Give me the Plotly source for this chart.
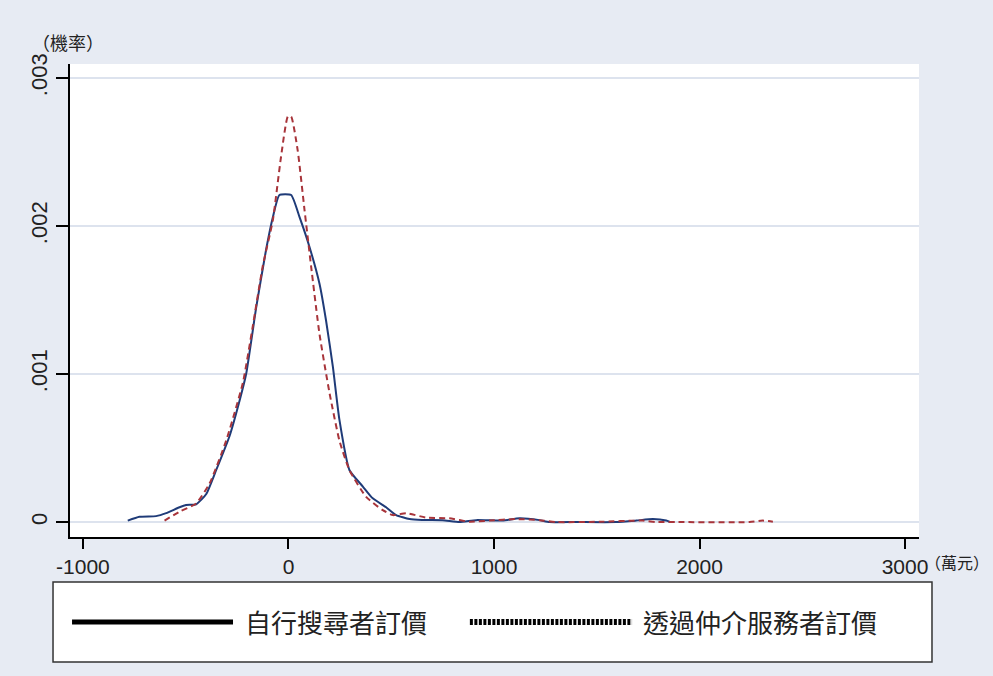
import plotly.graph_objects as go

# 自行搜尋者訂價 (solid, navy)
self_x = [-782, -725, -644, -595, -530, -498, -449, -400, -352, -287, -238, -206, -157, -109, -76, -44,
          13, 54, 102, 151, 183, 216, 248, 297, 362, 410, 475, 524, 589, 650, 750, 832, 913, 1042,
          1124, 1221, 1270, 1400, 1594, 1692, 1773, 1838, 1854]
self_y = [0.00001, 0.000036, 0.00004, 0.00006, 0.0001, 0.000115, 0.00012, 0.00019, 0.00035, 0.00058,
          0.00082, 0.001, 0.00145, 0.00184, 0.00206, 0.00221, 0.00221, 0.00206, 0.00186, 0.00161,
          0.00136, 0.00105, 0.00069, 0.00035, 0.00024, 0.00016, 0.0001, 0.000047, 0.00002, 0.000014,
          0.000013, 0.0, 0.000013, 0.00001, 0.000025, 0.000013, 0.0, 0.0, 0.0, 0.00001, 0.00002,
          0.00001, 0.000002]

# 透過仲介服務者訂價 (dashed, dark red)
agent_x = [-603, -530, -449, -384, -303, -222, -174, -125, -76, -36, -3, 13, 45, 78, 110, 151, 200,
           248, 297, 378, 459, 508, 573, 670, 783, 881, 978, 1108, 1221, 1303, 1513, 1724, 1789, 1887,
           2243, 2308, 2357]
agent_y = [0.00001, 0.00007, 0.000126, 0.00026, 0.00055, 0.00094, 0.00132, 0.00173, 0.00204, 0.00247,
           0.00274, 0.00274, 0.00251, 0.00211, 0.00173, 0.00127, 0.00087, 0.00055, 0.00035, 0.00017,
           0.00008, 0.000047, 0.00006, 0.00003, 0.000025, 0.000002, 0.00001, 0.00002, 0.000013, 0.0,
           0.000002, 0.00001, 0.0, 0.0, 0.0, 0.00001, 0.000002]

x_ticks = [-1000, 0, 1000, 2000, 3000]
x_tick_labels = ["-1000", "0", "1000", "2000", "3000"]
y_ticks = [0, 0.001, 0.002, 0.003]
y_tick_labels = ["0", ".001", ".002", ".003"]

legend_names = ["自行搜尋者訂價", "透過仲介服務者訂價"]
y_title = "（機率）"
x_title = "（萬元）"

BG = "#e7ebf3"
GRID = "#dde3ee"
FONT = "Liberation Sans, Arial, sans-serif"
CJK = "Noto Sans CJK TC, Noto Sans CJK SC, sans-serif"

fig = go.Figure()
fig.add_trace(go.Scatter(x=self_x, y=self_y, mode="lines", name=legend_names[0],
                         line=dict(color="#1f3b78", width=2, shape="spline", smoothing=0.5)))
fig.add_trace(go.Scatter(x=agent_x, y=agent_y, mode="lines", name=legend_names[1],
                         line=dict(color="#a8343a", width=2, dash="6px,4px", shape="spline", smoothing=0.5)))

fig.update_layout(
    width=993, height=676,
    paper_bgcolor=BG, plot_bgcolor="white",
    margin=dict(l=70, r=74, t=64, b=139),
    showlegend=False,
    font=dict(family=FONT, size=18, color="#222"),
    xaxis=dict(range=[-1063, 3068], tickvals=x_ticks, ticktext=x_tick_labels,
               showgrid=False, zeroline=False, showline=True, linecolor="black", linewidth=2,
               ticks="outside", ticklen=10, tickwidth=2, tickcolor="black",
               tickfont=dict(family=FONT, size=21, color="#222")),
    yaxis=dict(range=[-0.000101, 0.003095], tickvals=y_ticks, ticktext=y_tick_labels,
               showgrid=True, gridcolor=GRID, gridwidth=2, zeroline=False,
               showline=True, linecolor="black", linewidth=2,
               ticks="outside", ticklen=12, tickwidth=2, tickcolor="black", tickangle=-90,
               tickfont=dict(family=FONT, size=22, color="#222")),
)

# Legend box (drawn manually: legend keys are long black lines)
LEG_Y = -0.1797
fig.add_shape(type="rect", xref="paper", yref="paper", x0=-0.0200, x1=1.0153, y0=-0.2643, y1=-0.0951,
              line=dict(color="#333", width=1.5), fillcolor="white", layer="above")
fig.add_shape(type="line", xref="paper", yref="paper", x0=0.0024, x1=0.1920, y0=LEG_Y, y1=LEG_Y,
              line=dict(color="black", width=5))
fig.add_shape(type="line", xref="paper", yref="paper", x0=0.471, x1=0.662, y0=LEG_Y, y1=LEG_Y,
              line=dict(color="black", width=6, dash="3px,1.5px"))
fig.add_annotation(xref="paper", yref="paper", x=0.204, y=LEG_Y, text=legend_names[0],
                   showarrow=False, xanchor="left", yanchor="middle",
                   font=dict(family=CJK, size=26, color="#222"))
fig.add_annotation(xref="paper", yref="paper", x=0.672, y=LEG_Y, text=legend_names[1],
                   showarrow=False, xanchor="left", yanchor="middle",
                   font=dict(family=CJK, size=26, color="#222"))

fig.add_annotation(xref="paper", yref="paper", x=-0.047, y=1.047, text=y_title,
                   showarrow=False, xanchor="left", yanchor="middle",
                   font=dict(family=CJK, size=18, color="#222"))
fig.add_annotation(xref="paper", yref="paper", x=1.0848, y=-0.053, text=x_title,
                   showarrow=False, xanchor="right", yanchor="middle",
                   font=dict(family=CJK, size=16, color="#222"))

fig.write_html("out.html", config={"displayModeBar": False},
               post_script="document.body.style.margin='0';document.body.style.background='%s';" % BG)
